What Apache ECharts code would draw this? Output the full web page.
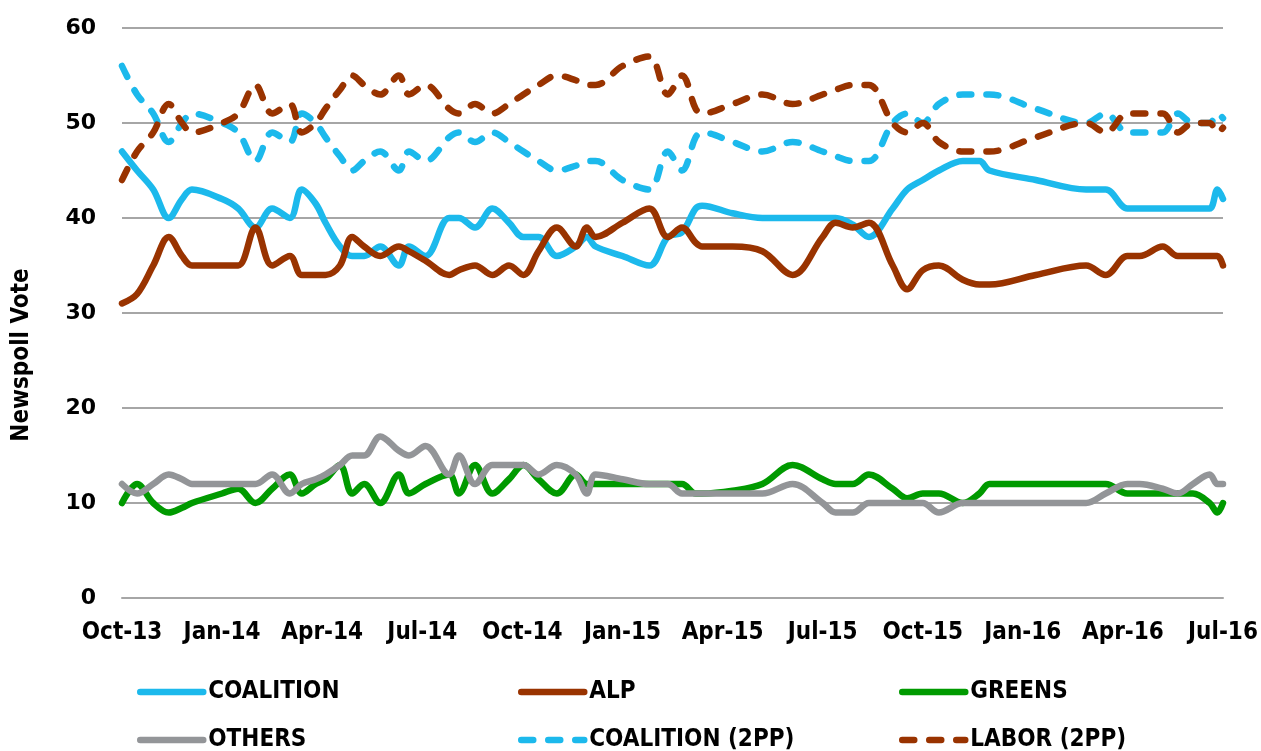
<!DOCTYPE html>
<html><head><meta charset="utf-8">
<script src="https://cdn.jsdelivr.net/npm/echarts@6/dist/echarts.min.js"></script>
<style>html,body{margin:0;padding:0;background:#fff}#c{width:1261px;height:751px}</style>
</head><body><div id="c"></div>
<script>
// Poll dates (Newspoll), Oct 2013 - Jul 2016
const pollDates = [
'2013-10-01','2013-10-15','2013-10-30','2013-11-13','2013-11-25','2013-12-04','2014-01-01','2014-01-16',
'2014-02-01','2014-02-15','2014-03-02','2014-03-13','2014-03-26','2014-04-04','2014-04-17','2014-04-28',
'2014-05-09','2014-05-24','2014-06-10','2014-06-19','2014-07-04','2014-07-26','2014-08-04','2014-08-19',
'2014-09-04','2014-09-19','2014-10-02','2014-10-16','2014-11-02','2014-11-19','2014-11-29','2014-12-07',
'2015-01-01','2015-01-26','2015-02-11','2015-02-23','2015-03-07','2015-03-13','2015-04-10','2015-05-07',
'2015-06-04','2015-07-01','2015-07-13','2015-07-29','2015-08-13','2015-09-04','2015-09-17','2015-10-01',
'2015-10-16','2015-11-07','2015-11-22','2015-12-01','2016-01-13','2016-02-27','2016-03-16','2016-04-05',
'2016-04-16','2016-05-07','2016-05-21','2016-06-04','2016-06-19','2016-06-26','2016-07-01'
];
const coalition = [47,45,43,40,42,43,42,41, 39,41,40,43,41.5,39.5,37,36, 36,37,35,37,36,40,40,39,
  41,39.5,38,38,36,37,38,37, 36,35,38,38.5,41,41.3,40.5,40, 40,40,40,39.3,38,41,43,44,
  45,46,46,45,44,43,43,41, 41,41,41,41,41,43,42];
const alp = [31,32,35,38,36,35,35,35, 39,35,36,34,34,34,35,38, 37,36,37,36.5,35.5,34,34.5,35,
  34,35,34,36.5,39,37,39,38, 39.5,41,38,39,37.4,37,37,36.5, 34,38,39.5,39,39.5,35,32.5,34.5,
  35,33.5,33,33,34,35,34,36, 36,37,36,36,36,36,35];
const greens = [10,12,10,9,9.5,10,11,11.5, 10,11.5,13,11,12,12.5,14,11, 12,10,13,11,12,13,11,14,
  11,12.5,14,12.5,11,13,12,12, 12,12,12,12,11,11,11.3,12, 14,12.5,12,12,13,11.5,10.5,11,
  11,10,11,12,12,12,12,11, 11,11,11,11,10,9,10];
const others = [12,11,12,13,12.5,12,12,12, 12,13,11,12,12.5,13,14,15, 15,17,15.5,15,16,13,15,12,
  14,14,14,13,14,13,11,13, 12.5,12,12,11,11,11,11,11, 12,10,9,9,10,10,10,10,
  9,10,10,10,10,10,11,12, 12,11.5,11,12,13,12,12];
const coalition2pp = [56,53,51,48,50,51,50,49, 46,49,48,51,50,48.5,46.5,45, 46,47,45,47,46,48.5,49,48,
  49,48,47,46,45,45.5,46,46, 44,43,47,45,48.5,49,48,47, 48,47,46.5,46,46,50,51,50,
  52,53,53,53,51.5,50,51,49, 49,49,51,50,50,51,50.5];
const labor2pp = [44,47,49,52,50,49,50,51, 54,51,52,49,50,51.5,53.5,55, 54,53,55,53,54,51.5,51,52,
  51,52,53,54,55,54.5,54,54, 56,57,53,55,51.5,51,52,53, 52,53,53.5,54,54,50,49,50,
  48,47,47,47,48.5,50,49,51, 51,51,49,50,50,49,49.5];
const tickLabels = ['Oct-13','Jan-14','Apr-14','Jul-14','Oct-14','Jan-15','Apr-15','Jul-15','Oct-15','Jan-16','Apr-16','Jul-16'];
const yTicks = [0,10,20,30,40,50,60];

function monthOffset(s){
  const p = s.split('-').map(Number);
  const dim = new Date(p[0], p[1], 0).getDate();
  return (p[0]-2013)*12 + (p[1]-10) + (p[2]-1)/dim;
}
const BLUE='#1cb9ec', BROWN='#993300', GREEN='#009a00', GRAY='#939598';
const NARROW = "'DejaVu Sans Condensed','DejaVu Sans',sans-serif";
const DASH = [12,15];

const defs = [
  {name:'COALITION', vals:coalition, color:BLUE, dash:'solid', col:0, row:0},
  {name:'ALP', vals:alp, color:BROWN, dash:'solid', col:1, row:0},
  {name:'GREENS', vals:greens, color:GREEN, dash:'solid', col:2, row:0},
  {name:'OTHERS', vals:others, color:GRAY, dash:'solid', col:0, row:1},
  {name:'COALITION (2PP)', vals:coalition2pp, color:BLUE, dash:DASH, col:1, row:1},
  {name:'LABOR (2PP)', vals:labor2pp, color:BROWN, dash:DASH, col:2, row:1}
];

const series = defs.map(d => ({
  name: d.name, type:'line', smooth:0.35, symbol:'none', showSymbol:false,
  data: pollDates.map((t,i)=>[monthOffset(t), d.vals[i]]),
  lineStyle:{color:d.color, width:6.5, type:d.dash, cap:'round', join:'round'},
  itemStyle:{color:d.color}, animation:false
}));

const legends = defs.map(d => ({
  data:[d.name], left: 137 + d.col*381, top: 680 + d.row*48, padding:0,
  itemWidth:63, itemHeight:14, itemGap:0,
  lineStyle:{color:d.color, width:6.5, type:d.dash, cap:'round'},
  itemStyle:{opacity:0},
  textStyle:{fontFamily:NARROW, fontWeight:'bold', fontSize:24, color:'#000'},
  selectedMode:false
}));

const chart = echarts.init(document.getElementById('c'), null, {renderer:'canvas'});
chart.setOption({
  animation:false,
  backgroundColor:'#fff',
  grid:{left:122, right:38, top:28, bottom:153, containLabel:false},
  xAxis:{type:'value', min:0, max:33, interval:3,
    axisLine:{show:true, lineStyle:{color:'#a6a6a6', width:2}},
    axisTick:{show:false}, splitLine:{show:false},
    axisLabel:{margin:23, fontFamily:NARROW, fontWeight:'bold', fontSize:24, color:'#000',
      showMinLabel:true, showMaxLabel:true,
      formatter: v => tickLabels[Math.round(v/3)]}
  },
  yAxis:{type:'value', min:yTicks[0], max:yTicks[yTicks.length-1], interval:10,
    axisLine:{show:false}, axisTick:{show:false},
    splitLine:{lineStyle:{color:'#a6a6a6', width:2}},
    axisLabel:{margin:26, fontFamily:"'DejaVu Sans',sans-serif", fontWeight:'bold', fontSize:22, color:'#000'}
  },
  legend: legends,
  graphic:[{type:'text', x:22, y:355, rotation:Math.PI/2,
    style:{text:'Newspoll Vote', font:"bold 24px 'DejaVu Sans Condensed','DejaVu Sans',sans-serif", fill:'#000', align:'center', verticalAlign:'middle'}}],
  series: series
});
</script></body></html>
